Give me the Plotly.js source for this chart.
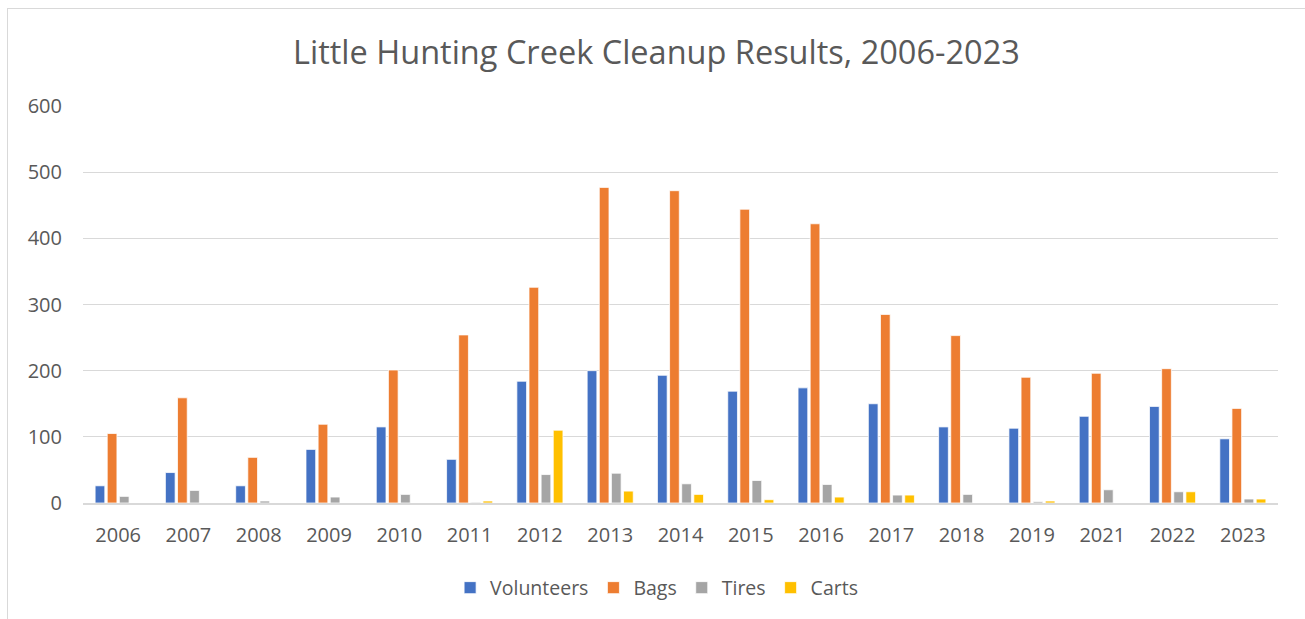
<!DOCTYPE html>
<html>
<head>
<meta charset="utf-8">
<script src="https://cdn.plot.ly/plotly-3.0.1.min.js"></script>
<style>
html,body{margin:0;padding:0;background:#fff;overflow:hidden;}
#frame{position:absolute;left:7px;top:8px;width:1320px;height:640px;border:1px solid #d9d9d9;box-sizing:border-box;}
#chart{position:absolute;left:0;top:0;width:1305px;height:619px;}
</style>
</head>
<body>
<div id="frame"></div>
<div id="chart"></div>
<script>
const years = ["2006","2007","2008","2009","2010","2011","2012","2013","2014","2015","2016","2017","2018","2019","2021","2022","2023"];
const volunteers = [26,46,26,81,115,66,184,200,193,169,174,150,115,113,131,146,97];
const bags = [105,159,69,119,201,254,326,477,472,444,422,285,253,190,196,203,143];
const tires = [10,19,3,9,13,1,43,45,29,34,28,12,13,2,20,17,6];
const carts = [0,0,0,0,0,3,110,18,13,5,9,12,0,3,0,17,6];
const yTicks = [0,100,200,300,400,500,600];

const seriesNames = ["Volunteers","Bags","Tires","Carts"];
const seriesVals = [volunteers,bags,tires,carts];
const colors = ["#4472C4","#ED7D31","#A5A5A5","#FFC000"];

const data = seriesNames.map((n,i)=>({
  type:'bar', name:n, x:years, y:seriesVals[i],
  marker:{color:colors[i], line:{color:'#ffffff', width:0.75}},
  hoverinfo:'x+y+name'
}));

const layout = {
  width:1305, height:619,
  paper_bgcolor:'rgba(0,0,0,0)', plot_bgcolor:'rgba(0,0,0,0)',
  margin:{l:83, r:27, t:106, b:116},
  font:{family:'"Open Sans", "Noto Sans", sans-serif', color:'#595959', size:20},
  title:{text:'Little Hunting Creek Cleanup Results, 2006-2023', x:0.503, xanchor:'center', xref:'container', y:0.915, yanchor:'middle', yref:'container', font:{size:32.5, color:'#595959'}},
  barmode:'group', bargap:0.31, bargroupgap:0.2,
  xaxis:{type:'category', showgrid:false, showline:true, linecolor:'#d9d9d9', linewidth:1.5, ticks:'', ticklabelstandoff:13, tickfont:{size:20, color:'#595959'}, fixedrange:true},
  yaxis:{range:[0,600], tickvals:yTicks, ticktext:yTicks.map(String), showgrid:true, gridcolor:'#d9d9d9', gridwidth:1, zeroline:false, showline:false, ticks:'', ticklabelstandoff:20, tickfont:{size:20, color:'#595959'}, fixedrange:true},
  showlegend:true,
  legend:{orientation:'h', x:0.48, xanchor:'center', y:-0.214, yanchor:'middle', font:{size:19.5, color:'#595959'}, itemwidth:30, traceorder:'normal'}
};

Plotly.newPlot('chart', data, layout, {displayModeBar:false, staticPlot:true});
</script>
</body>
</html>
